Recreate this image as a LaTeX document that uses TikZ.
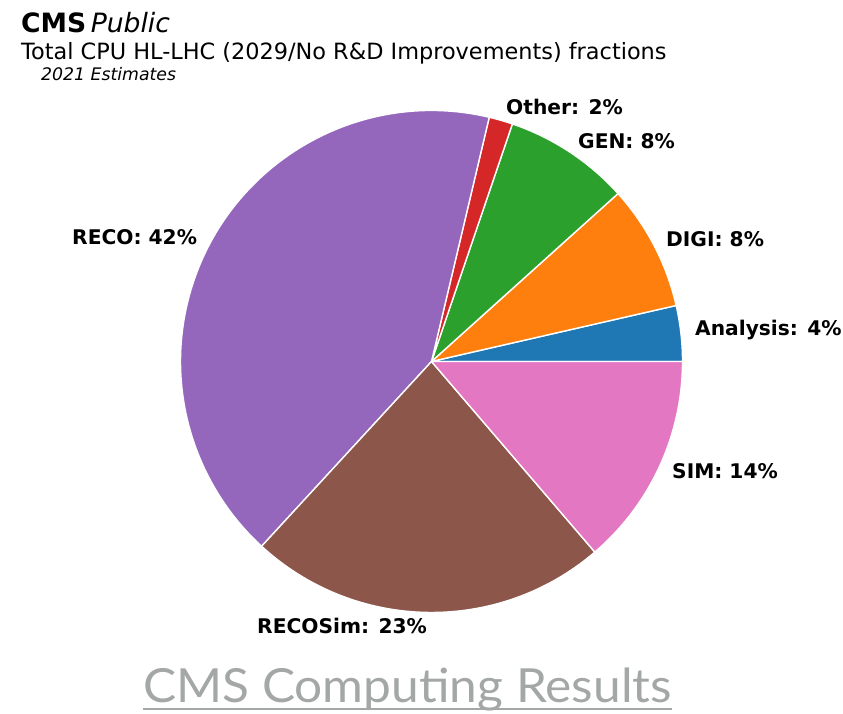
\documentclass[tikz,border=0pt]{standalone}
\usepackage{fontspec}
\setmainfont{DejaVu Sans}
\newfontfamily\footfont{Lato}
\definecolor{tabblue}{HTML}{1F77B4}
\definecolor{taborange}{HTML}{FF7F0E}
\definecolor{tabgreen}{HTML}{2CA02C}
\definecolor{tabred}{HTML}{D62728}
\definecolor{tabpurple}{HTML}{9467BD}
\definecolor{tabbrown}{HTML}{8C564B}
\definecolor{tabpink}{HTML}{E377C2}
\definecolor{footgray}{HTML}{A3A8A6}
\tikzset{
  wedge/.style={draw=white, line width=1.4pt, line join=round},
  slicelabel/.style={inner sep=0pt, font=\fontsize{20.2}{22}\selectfont\bfseries},
}
% pie slice: fill colour, start angle, end angle
\newcommand{\pieslice}[3]{%
  \filldraw[wedge, fill=#1] (ctr) -- ++(#2:251) arc[start angle=#2, end angle=#3, radius=251] -- cycle;}
\begin{document}
\begin{tikzpicture}[x=1pt,y=1pt]
\useasboundingbox (0,0) rectangle (843,-713);
\coordinate (ctr) at (431.5,-361.5);
% wedges, counter-clockwise from the positive x axis
\pieslice{tabblue}{0}{12.9}
\pieslice{taborange}{12.9}{42.0}
\pieslice{tabgreen}{42.0}{71.2}
\pieslice{tabred}{71.2}{76.7}
\pieslice{tabpurple}{76.7}{227.4}
\pieslice{tabbrown}{227.4}{310.6}
\pieslice{tabpink}{310.6}{360}
% slice labels
\node[slicelabel, anchor=west] (lother) at (506,-107) {Other: 2\%};
\node[slicelabel, anchor=west] (lgen) at (578,-141) {GEN: 8\%};
\node[slicelabel, anchor=west] (ldigi) at (666,-239) {DIGI: 8\%};
\node[slicelabel, anchor=west] (lana) at (695,-330) {Analysis: 4\%};
\node[slicelabel, anchor=west] (lsim) at (672,-471) {SIM: 14\%};
\node[slicelabel, anchor=west] (lrecosim) at (257,-626) {RECOSim: 23\%};
\node[slicelabel, anchor=west] (lreco) at (72,-237) {RECO: 42\%};
% header
\node[inner sep=0pt, anchor=base west] (cms) at (21,-32) {\fontsize{26.6}{29}\selectfont\bfseries CMS\,\itshape\mdseries Public};
\node[inner sep=0pt, anchor=base west] (title) at (21,-59) {\fontsize{22.4}{25}\selectfont Total CPU HL-LHC (2029/No R\&D Improvements) fractions};
\node[inner sep=0pt, anchor=base west] (est) at (41,-80) {\fontsize{17.3}{19}\selectfont\itshape 2021 Estimates};
% footer
\node[inner sep=0pt, anchor=base west, text=footgray, xscale=1.056] (foot) at (143,-702) {\footfont\fontsize{47}{50}\selectfont CMS Computing Results};
\draw[footgray, line width=1.5pt] (foot.base west) ++(0,-7) coordinate (ul1) -- (ul1 -| foot.east);
\end{tikzpicture}
\end{document}
